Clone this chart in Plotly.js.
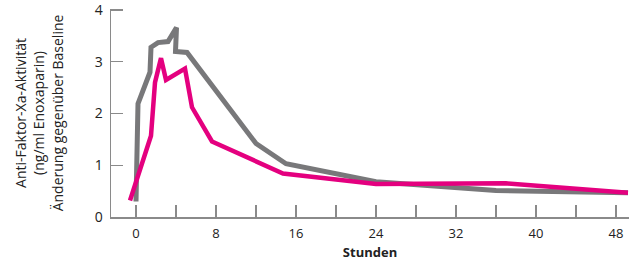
<!DOCTYPE html>
<html>
<head>
<meta charset="utf-8">
<script src="https://cdn.plot.ly/plotly-3.0.1.min.js"></script>
<style>html,body{margin:0;padding:0;background:#fff;}#chart{width:635px;height:263px;}</style>
</head>
<body>
<div id="chart"></div>
<script>
// Gray series
const grayHours  = [0, 0.2, 1.4, 1.5, 2.2, 3.2, 4.05, 3.95, 5.1, 12, 15, 24, 36, 49.2];
const grayValues = [0.3, 2.19, 2.8, 3.28, 3.37, 3.39, 3.66, 3.2, 3.18, 1.42, 1.03, 0.68, 0.51, 0.47];
// Pink series
const pinkHours  = [-0.6, 1.5, 1.9, 2.5, 3.0, 4.9, 5.6, 7.6, 14.7, 24, 37, 49.2];
const pinkValues = [0.32, 1.57, 2.6, 3.07, 2.65, 2.87, 2.12, 1.46, 0.84, 0.64, 0.65, 0.47];
const xTickVals = [0, 4, 8, 12, 16, 20, 24, 28, 32, 36, 40, 44, 48];
const xTickText = ['0', '', '8', '', '16', '', '24', '', '32', '', '40', '', '48'];
const yTickVals = [0, 1, 2, 3, 4];

const font = "'Open Sans', 'Noto Sans', sans-serif";
const data = [
  {x: grayHours, y: grayValues, mode: 'lines', line: {color: '#78787a', width: 5}, hoverinfo: 'skip'},
  {x: pinkHours, y: pinkValues, mode: 'lines', line: {color: '#e4007f', width: 4.5}, hoverinfo: 'skip'}
];
const axisCol = '#8a8a8a';
const layout = {
  width: 635, height: 263,
  margin: {l: 111, r: 6, t: 9, b: 46},
  paper_bgcolor: '#fff', plot_bgcolor: '#fff',
  showlegend: false,
  font: {family: font, size: 13, color: '#222'},
  xaxis: {
    range: [-2.5, 49.3], showgrid: false, zeroline: false,
    showline: true, linecolor: axisCol, linewidth: 1.5,
    ticks: 'inside', ticklen: 12, tickcolor: axisCol, tickwidth: 1.2,
    tickvals: xTickVals, ticktext: xTickText,
    ticklabelstandoff: 4, ticklabeloverflow: 'allow',
    tickfont: {family: font, size: 13, color: '#222'},
    title: {text: '<b>Stunden</b>', font: {family: font, size: 13, color: '#222'}, standoff: 7}
  },
  yaxis: {
    range: [0, 4.02], showgrid: false, zeroline: false,
    showline: true, linecolor: axisCol, linewidth: 1.5,
    ticks: 'inside', ticklen: 12, tickcolor: axisCol, tickwidth: 1.2,
    tickvals: yTickVals, ticktext: yTickVals.map(String),
    ticklabelstandoff: 4, ticklabeloverflow: 'allow',
    tickfont: {family: font, size: 14, color: '#222'},
    title: {text: 'Anti-Faktor-Xa-Aktivität<br>(ng/ml Enoxaparin)<br>Änderung gegenüber Baseline',
            font: {family: font, size: 14, color: '#222'}, standoff: 28}
  }
};
Plotly.newPlot('chart', data, layout, {staticPlot: true, displayModeBar: false});
</script>
</body>
</html>
